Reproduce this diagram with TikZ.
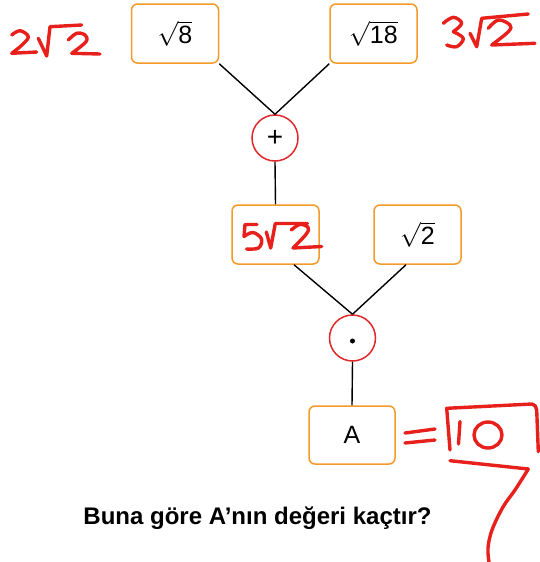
\documentclass[tikz,border=0pt]{standalone}
\usepackage{fontspec}
\setmainfont{Liberation Sans}
\definecolor{boxorange}{HTML}{F39A2A}
\definecolor{oprred}{HTML}{E0282A}
\definecolor{inkred}{HTML}{E8201C}
\begin{document}
\begin{tikzpicture}[x=1pt,y=-1pt,
  valbox/.style={draw=boxorange, line width=1.5pt, rounded corners=6pt, fill=white,
    minimum width=87pt, minimum height=59pt, inner sep=0pt,
    font=\fontsize{25}{25}\selectfont},
  opnode/.style={draw=oprred, line width=1.5pt, circle, minimum size=46pt, inner sep=0pt,
    font=\fontsize{28}{28}\selectfont},
  link/.style={line width=1.4pt, black},
  hand/.style={draw=inkred, line width=3.4pt, line cap=round, line join=round}]
\useasboundingbox (0,0) rectangle (540,562);

% value boxes
\node[valbox] (b8) at (175,33.5) {$\sqrt{\mbox{8}}$};
\node[valbox] (b18) at (373.5,33.5) {$\sqrt{\mbox{18}}$};
\node[valbox] (b5) at (275.5,234.5) {};
\node[valbox] (b2) at (417.5,234.5) {$\sqrt{\mbox{2}}$};
\node[valbox, minimum width=86pt, minimum height=58pt] (bA) at (352,435) {A};

% operators
\node[opnode] (plus) at (275,138) {+};
\node[opnode] (dot) at (352.5,338) {};
\fill (dot.center) ++(0,3) circle (2.5pt);

% connectors
\draw[link] (b8.south east) -- (plus.north);
\draw[link] (b18.south west) -- (plus.north);
\draw[link] (plus.south) -- (b5.north);
\draw[link] ([xshift=18.5pt]b5.south) -- (dot.north);
\draw[link] ([xshift=-11.5pt]b2.south) -- (dot.north);
\draw[link] (dot.south) -- (bA.north);

% question
\node[font=\fontsize{24}{28}\selectfont\bfseries] (q) at (257.5,518) {Buna göre A’nın değeri kaçtır?};

% handwritten: 2 sqrt 2 (left)
\draw[hand] plot[smooth, tension=0.6] coordinates {(11.7,35) (20,30.7) (28.3,36.7) (22,45) (11.7,53.3)} -- (36.7,52);
\draw[hand] plot[smooth, tension=0.3] coordinates {(38.3,38.3) (46.7,56)} -- (50,26.7) -- (81.7,25);
\draw[hand] plot[smooth, tension=0.6] coordinates {(68.3,40) (76.7,33.3) (85,35) (86,41.7) (71.7,53.3)} -- (100,54);

% handwritten: 3 sqrt 2 (right)
\draw[hand] plot[smooth, tension=0.6] coordinates {(443.3,23.3) (453.3,17.3) (461.7,23.3) (453.3,31.7)};
\draw[hand] plot[smooth, tension=0.6] coordinates {(453.3,31.7) (463.3,38.3) (456.7,46.7) (446.7,45)};
\draw[hand] plot[smooth, tension=0.3] coordinates {(470,33.3) (476.7,46.7)} -- (481.7,18.3) -- (528.3,14);
\draw[hand] plot[smooth, tension=0.6] coordinates {(488.3,28.3) (498.3,20) (510,25) (508.3,31.7) (491.7,45)} -- (535,43.3);

% handwritten: 5 sqrt 2 (inside box)
\draw[hand] (257,224.5) -- (245,224.5) -- (244,236.5);
\draw[hand] plot[smooth, tension=0.6] coordinates {(244,236.5) (253,232.5) (261.5,239) (258.5,248) (246.5,249)};
\draw[hand] plot[smooth, tension=0.3] coordinates {(266.3,232) (270.7,248)} -- (275.3,223.5) -- (307.3,223.5);
\draw[hand] plot[smooth, tension=0.6] coordinates {(291.3,230) (299.7,224.5) (308,227.3) (306.3,234) (293,248)} -- (321.7,246.5);

% handwritten: = 10 with box and 7
\draw[hand] (405,433) -- (435,429);
\draw[hand] (405,443) -- (435,440);
\draw[hand] (450,450) -- (446.7,408.3) -- (532,404) to[out=0,in=100] (536.7,410) -- (538.3,451.7);
\draw[hand] (460,421.5) -- (458.5,444);
\draw[hand] (488,435) ellipse (14pt and 13pt);
\draw[hand] (450,460.7) -- (528.3,469);
\draw[hand] plot[smooth, tension=0.6] coordinates {(528.3,469) (515,490) (503,507) (492,530) (488,548) (489,562)};
\end{tikzpicture}
\end{document}
